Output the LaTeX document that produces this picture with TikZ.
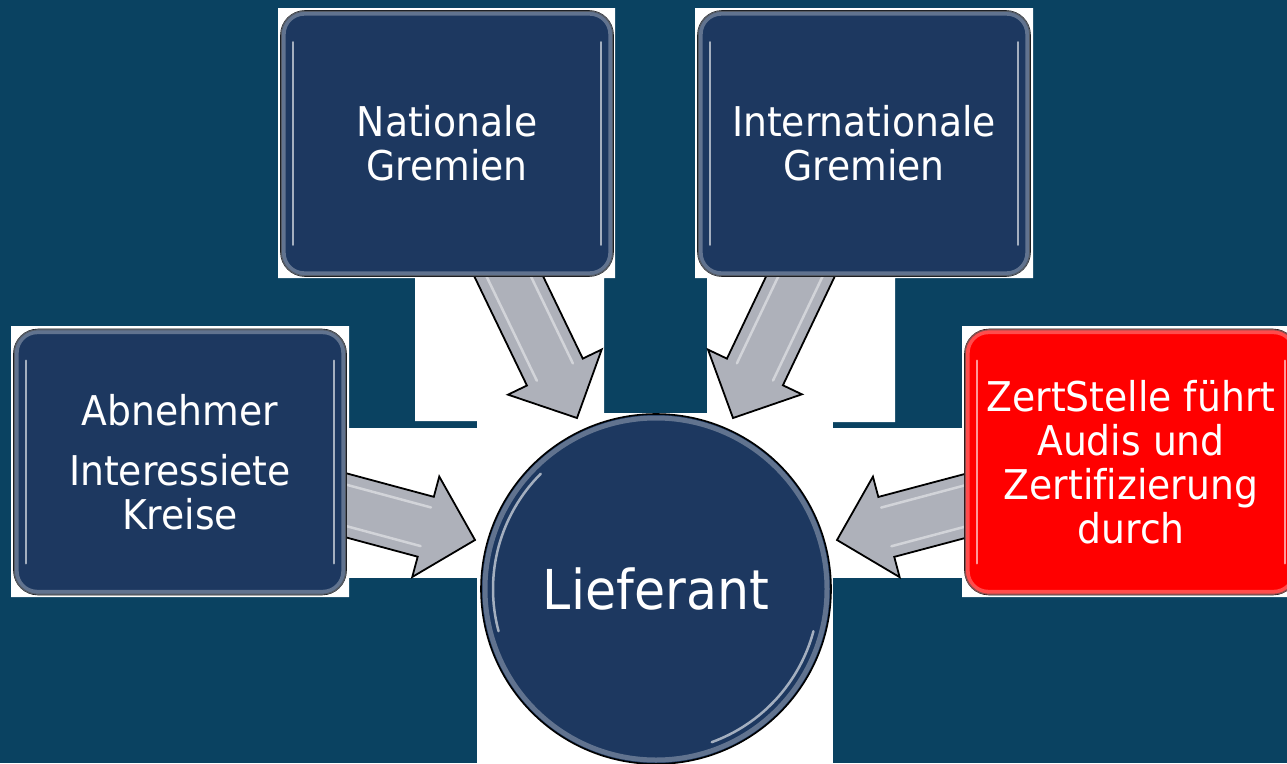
\documentclass[tikz,border=0pt]{standalone}
\usepackage{fontspec}
\setmainfont{DejaVu Sans}[FakeStretch=0.92, Ligatures=NoCommon]
\usetikzlibrary{calc}
\definecolor{bgteal}{RGB}{10,66,97}
\definecolor{boxblue}{RGB}{29,56,96}
\definecolor{arrowgrey}{RGB}{174,177,186}
\definecolor{boxred}{RGB}{255,0,0}
\tikzset{
  plate/.style={fill=white, draw=none},
  boxnode/.style={rounded corners=24pt, draw=black, line width=1.6pt, fill=boxblue,
    minimum width=332pt, minimum height=265pt, inner sep=0pt, align=center,
    text=white, font=\fontsize{41}{44}\selectfont},
  rim/.style={draw=#1, line width=5pt, rounded corners=21pt, opacity=0.55},
  gloss/.style={draw=white, line width=2.5pt, line cap=round, opacity=0.6},
  blockfill/.style={fill=arrowgrey, draw=black, line width=1.8pt, line join=miter},
  hubnode/.style={circle, draw=black, line width=1.6pt, fill=boxblue, minimum size=350pt,
    inner sep=0pt, text=white, font=\fontsize{55}{60}\selectfont},
}
\newcommand\blockarrow[2]{%
  \coordinate (#2-h) at ($(#2)!51pt!(#1)$);
  \draw[blockfill] ($(#1)!31pt!90:(#2)$) -- ($(#2-h)!31pt!90:(#2)$) -- ($(#2-h)!52pt!90:(#2)$)
    -- (#2) -- ($(#2-h)!52pt!-90:(#2)$) -- ($(#2-h)!31pt!-90:(#2)$) -- ($(#1)!31pt!-90:(#2)$) -- cycle;
  \draw[gloss, opacity=0.45] ($(#1)!20pt!90:(#2)$) -- ($(#2-h)!20pt!90:(#2)$);
  \draw[gloss, opacity=0.45] ($(#1)!20pt!-90:(#2)$) -- ($(#2-h)!20pt!-90:(#2)$);
}
\newcommand\boxbevel[2]{%
  \draw[rim=#2] ([shift={(3,3)}]#1.north west) rectangle ([shift={(-3,-3)}]#1.south east);
  \draw[gloss] ([shift={(13,32)}]#1.north west) -- ([shift={(13,-32)}]#1.south west);
  \draw[gloss] ([shift={(-13,32)}]#1.north east) -- ([shift={(-13,-32)}]#1.south east);
}
\begin{document}
\begin{tikzpicture}[x=1pt, y=-1pt]
  \useasboundingbox (0,0) rectangle (1287,763);
  \clip (0,0) rectangle (1287,763);
  \fill[bgteal] (0,0) rectangle (1287,763);
  % white plates
  \fill[white] (278,8) rectangle (615,278)
               (695,8) rectangle (1033,278)
               (415,278) rectangle (604,421)
               (707,278) rectangle (895,422)
               (11,326) rectangle (349,597)
               (962,326) rectangle (1287,597);
  \fill[white] (349,428) rectangle (477,578);
  \fill[white] (477,413) rectangle (833,763);
  \fill[white] (833,428) rectangle (962,578);
  % arrows
  \coordinate (tlS) at (496,250);
  \coordinate (tlE) at (577,418);
  \coordinate (trS) at (813,250);
  \coordinate (trE) at (733,418);
  \coordinate (lS) at (330,501);
  \coordinate (lE) at (475,540);
  \coordinate (rS) at (980,502);
  \coordinate (rE) at (837,540);
  \blockarrow{tlS}{tlE}
  \blockarrow{trS}{trE}
  \blockarrow{lS}{lE}
  \blockarrow{rS}{rE}
  % boxes
  \node[boxnode] (nat) at (447,143.5) {Nationale\\Gremien};
  \boxbevel{nat}{boxblue!45!white}
  \node[boxnode] (int) at (864,143.5) {Internationale\\Gremien};
  \boxbevel{int}{boxblue!45!white}
  \node[boxnode] (abn) at (180,462) {Abnehmer\\[16pt]Interessiete\\Kreise};
  \boxbevel{abn}{boxblue!45!white}
  \node[boxnode, fill=boxred] (zert) at (1131,462) {ZertStelle führt\\Audis und\\Zertifizierung\\durch};
  \boxbevel{zert}{boxred!45!white}
  % hub
  \node[hubnode] (lief) at (656,589) {Lieferant};
  \draw[draw=boxblue!45!white, line width=5pt, opacity=0.55] (lief.center) circle[radius=171pt];
  \draw[gloss] ($(lief.center)+(135:163pt)$) arc[start angle=135, end angle=195, radius=163pt];
  \draw[gloss] ($(lief.center)+(-15:163pt)$) arc[start angle=-15, end angle=-70, radius=163pt];
\end{tikzpicture}
\end{document}
